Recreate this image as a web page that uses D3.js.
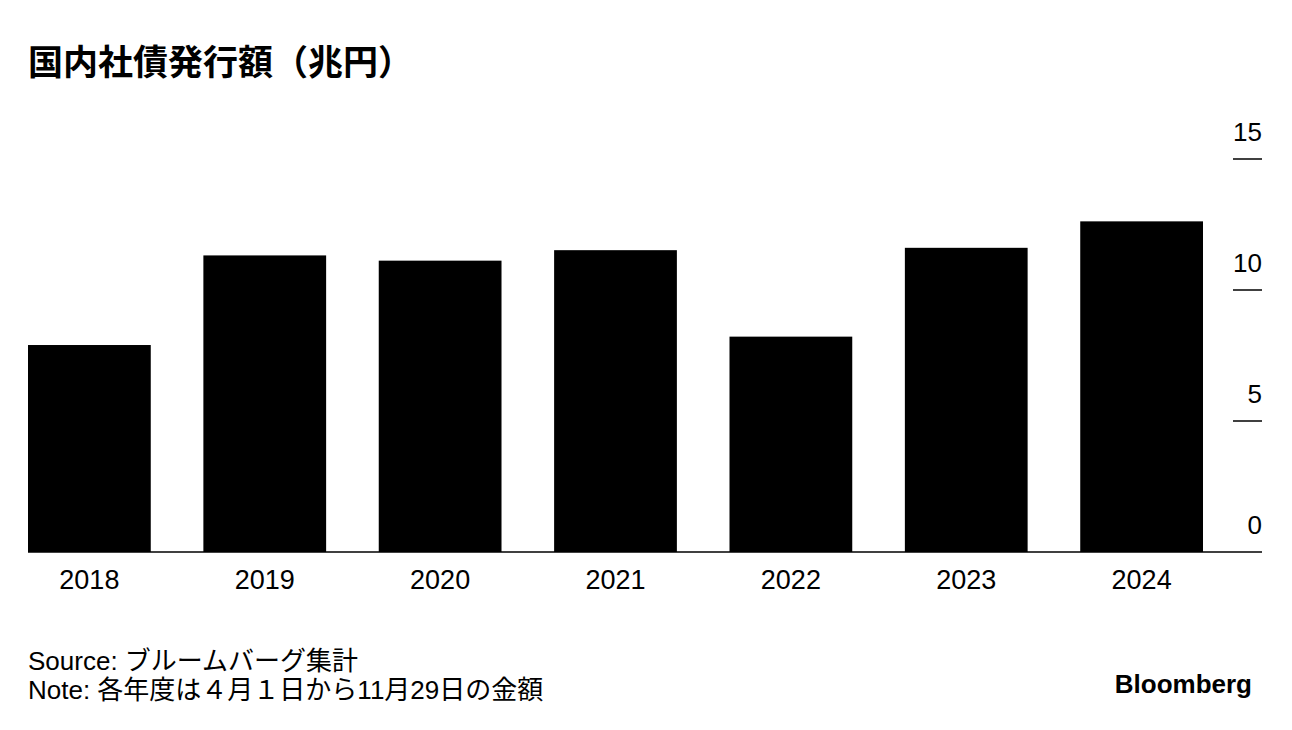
<!DOCTYPE html>
<html>
<head>
<meta charset="utf-8">
<script src="https://cdn.jsdelivr.net/npm/d3@7"></script>
<style>
  html, body { margin: 0; padding: 0; background: #fff; }
  svg { display: block; font-family: "Liberation Sans", Arial, "Noto Sans CJK JP", sans-serif; }
</style>
</head>
<body>
<svg id="chart" width="1292" height="730"></svg>
<script>
const title = "国内社債発行額（兆円）";
const categories = ["2018", "2019", "2020", "2021", "2022", "2023", "2024"];
const values = [7.9, 11.32, 11.12, 11.52, 8.22, 11.61, 12.62];
const yTicks = [0, 5, 10, 15];
const sourceText = "Source: ブルームバーグ集計";
const noteText = "Note: 各年度は４月１日から11月29日の金額";
const logoText = "Bloomberg";

const svg = d3.select("#chart");
const W = 1292, H = 730;
svg.append("rect").attr("width", W).attr("height", H).attr("fill", "#fff");

const plotLeft = 28, barsRight = 1203, axisRight = 1262;
const yBase = 552, yTop = 159;

const x = d3.scaleBand().domain(categories).range([plotLeft, barsRight]).paddingInner(0.3).paddingOuter(0);
const y = d3.scaleLinear().domain([0, 15]).range([yBase, yTop]);

// Title
svg.append("text")
  .attr("x", 28).attr("y", 75)
  .attr("font-family", "'Noto Sans CJK JP', sans-serif")
  .attr("font-weight", "bold")
  .attr("font-size", 35)
  .attr("fill", "#000")
  .text(title);

// Bars
svg.append("g").selectAll("rect").data(categories).join("rect")
  .attr("x", d => x(d))
  .attr("width", x.bandwidth())
  .attr("y", (d, i) => y(values[i]))
  .attr("height", (d, i) => y(0) - y(values[i]))
  .attr("fill", "#000");

// Y axis (right side): short tick lines with labels above
const yg = svg.append("g");
yg.selectAll("line.tick").data(yTicks.filter(t => t > 0)).join("line")
  .attr("class", "tick")
  .attr("x1", 1233).attr("x2", axisRight)
  .attr("y1", d => y(d)).attr("y2", d => y(d))
  .attr("stroke", "#000").attr("stroke-width", 1.5);
yg.selectAll("text").data(yTicks).join("text")
  .attr("x", axisRight)
  .attr("y", d => y(d) - 18)
  .attr("text-anchor", "end")
  .attr("font-size", 26)
  .attr("fill", "#000")
  .text(d => d);

// Baseline
svg.append("line")
  .attr("x1", plotLeft).attr("x2", axisRight)
  .attr("y1", y(0)).attr("y2", y(0))
  .attr("stroke", "#000").attr("stroke-width", 1.5);

// X axis labels
svg.append("g").selectAll("text").data(categories).join("text")
  .attr("x", d => x(d) + x.bandwidth() / 2)
  .attr("y", yBase + 37)
  .attr("text-anchor", "middle")
  .attr("font-size", 27)
  .attr("fill", "#000")
  .text(d => d);

// Footer
svg.append("text").attr("x", 28).attr("y", 670).attr("font-size", 26).attr("fill", "#000").text(sourceText);
svg.append("text").attr("x", 28).attr("y", 699).attr("font-size", 26).attr("fill", "#000").text(noteText);
svg.append("text").attr("x", 1252).attr("y", 693).attr("text-anchor", "end")
  .attr("font-size", 26).attr("font-weight", "bold").attr("fill", "#000").text(logoText);
</script>
</body>
</html>
